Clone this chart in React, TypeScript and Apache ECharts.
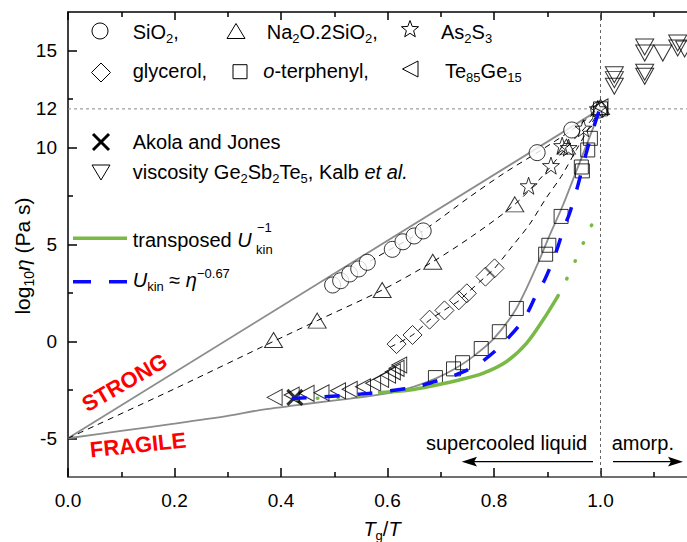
import React, { useEffect, useRef } from 'react';
import * as echarts from 'echarts';

const FONT = '"Liberation Sans", Arial, Helvetica, sans-serif';

// ---- axes / ticks ----
const xMin = 0;
const xMax = 1.2;
const yMin = -7;
const yMax = 17;
const yLabelValues = [-5, 0, 5, 10, 12, 15];
const yMajorTicks = [-5, 0, 5, 10, 15];
const yMinorTicks = [-2.5, 2.5, 7.5, 12.5];

// ---- marker data [Tg/T, log10 eta] ----
const sio2 = [[0.497, 2.91], [0.512, 3.13], [0.529, 3.48], [0.546, 3.74], [0.562, 4.08], [0.609, 4.75], [0.629, 5.14], [0.65, 5.44], [0.667, 5.7], [0.881, 9.74], [0.946, 10.91], [0.997, 11.94]];
const na2o = [[0.386, 0.07], [0.468, 1.07], [0.59, 2.65], [0.685, 4.11], [0.839, 7.07], [0.936, 10.05], [1.0, 12.1]];
const as2s3 = [[0.865, 8.03], [0.907, 9.07], [0.928, 10.1], [0.94, 10.0], [0.968, 11.0], [0.995, 12.0]];
const glycerol = [[0.617, -0.14], [0.647, 0.33], [0.679, 1.12], [0.707, 1.6], [0.734, 2.12], [0.749, 2.48], [0.784, 3.34], [0.801, 3.77]];
const oTerphenyl = [[0.69, -1.87], [0.724, -1.42], [0.741, -1.1], [0.776, -0.37], [0.81, 0.5], [0.842, 1.7], [0.897, 4.5], [0.903, 4.96], [0.926, 6.45], [0.964, 9.0], [0.966, 8.8], [0.976, 9.88], [0.981, 10.48], [1.0, 12.0]];
const teGe = [[0.388, -2.89], [0.42, -2.77], [0.448, -2.68], [0.476, -2.65], [0.507, -2.55], [0.529, -2.47], [0.554, -2.34], [0.573, -2.16], [0.588, -1.96], [0.601, -1.74], [0.61, -1.57], [0.617, -1.39], [0.622, -1.22], [1.0, 12.1]];
const akola = [[0.426, -2.89]];
const gstKalb = [[1.026, 13.76], [1.026, 13.51], [1.026, 13.17], [1.083, 15.19], [1.083, 14.88], [1.083, 13.89], [1.083, 13.68], [1.117, 14.88], [1.145, 15.4], [1.145, 15.14], [1.158, 15.09]];

// ---- lines ----
const strongLine = [[0, -5], [1, 12]];
const fragileLine = [[0, -5], [0.1, -4.62], [0.2, -4.25], [0.3, -3.85], [0.36, -3.55], [0.45, -3.22], [0.53, -2.95], [0.6, -2.68], [0.65, -2.33], [0.69, -1.92], [0.724, -1.45], [0.76, -0.8], [0.8, 0.15], [0.842, 1.7], [0.882, 4.0], [0.904, 5.45], [0.929, 7.0], [0.954, 8.75], [0.976, 10.3], [1.0, 12.0]];
const sio2Fit = [[0.497, 2.91], [0.58, 4.35], [0.667, 5.72], [0.754, 7.45], [0.82, 8.7], [0.881, 9.74], [0.946, 10.91], [1.0, 12.0]];
const na2oFit = [[0, -5], [0.2, -2.45], [0.386, 0.0], [0.468, 1.07], [0.59, 2.65], [0.685, 4.11], [0.76, 5.45], [0.839, 7.07], [0.89, 8.5], [0.936, 10.0], [0.97, 11.0], [1.0, 12.0]];
const glycerolFit = [[0.605, -0.3], [0.647, 0.33], [0.679, 1.1], [0.707, 1.62], [0.734, 2.1], [0.749, 2.48], [0.784, 3.34], [0.801, 3.77], [0.836, 4.97], [0.867, 6.05], [0.898, 7.4], [0.926, 8.5], [0.955, 9.9], [0.98, 11.1], [1.0, 12.0]];
const greenDotLow = [[0.43, -2.97], [0.465, -2.94], [0.545, -2.82], [0.582, -2.65]];
const greenSolid = [[0.582, -2.65], [0.642, -2.51], [0.692, -2.25], [0.735, -1.99], [0.779, -1.65], [0.823, -1.05], [0.861, -0.1], [0.892, 1.1], [0.92, 2.34]];
const greenDotHigh = [[0.92, 2.34], [0.934, 3.08], [0.951, 4.06], [0.968, 5.09], [0.985, 6.1]];
const blueUkin = [[0.42, -2.95], [0.48, -2.86], [0.55, -2.72], [0.6, -2.57], [0.65, -2.37], [0.7, -1.98], [0.74, -1.6], [0.773, -1.13], [0.8, -0.55], [0.82, -0.02], [0.848, 0.85], [0.864, 1.53], [0.879, 2.39], [0.895, 3.17], [0.911, 4.2], [0.92, 4.89], [0.932, 5.92], [0.942, 6.61], [0.957, 8.0], [0.973, 9.7], [0.989, 11.2], [1.0, 12.1]];
const tgLine = [[0, 12], [1.2, 12]];
const glassLine = [[1, -7], [1, 17]];

const GREEN = '#79b945';
const BLUE = '#0a0aff';
const GRAY = '#8c8c8c';
const STAR = 'path://M50,2 L61.8,36.2 L97.6,36.9 L69,58.8 L79.4,93.1 L50,72.5 L20.6,93.1 L31,58.8 L2.4,36.9 L38.2,36.2 Z';
const CROSS = 'path://M0,0 L10,10 M10,0 L0,10';

function starPoints(cx: number, cy: number, R: number, r: number) {
  const pts: number[][] = [];
  for (let i = 0; i < 10; i++) {
    const a = -Math.PI / 2 + (i * Math.PI) / 5;
    const rad = i % 2 === 0 ? R : r;
    pts.push([cx + rad * Math.cos(a), cy + rad * Math.sin(a)]);
  }
  return pts;
}

const rich = {
  sub: { fontSize: 13, lineHeight: 12, verticalAlign: 'bottom', fontFamily: FONT, fill: '#000' },
  sup: { fontSize: 13, lineHeight: 12, verticalAlign: 'top', fontFamily: FONT, fill: '#000' },
  it: { fontSize: 20, lineHeight: 26, fontStyle: 'italic', fontFamily: FONT, fill: '#000' },
};
const richY = {
  sub: { fontSize: 14, lineHeight: 12, verticalAlign: 'bottom', fontFamily: FONT, fill: '#000' },
  it: { fontSize: 21, lineHeight: 27, fontStyle: 'italic', fontFamily: FONT, fill: '#000' },
};

function txt(x: number, y: number, text: string, extra: any = {}) {
  return {
    type: 'text',
    x,
    y,
    silent: true,
    z: 10,
    style: {
      text,
      fontSize: 20,
      lineHeight: 26,
      fontFamily: FONT,
      fill: '#000',
      align: 'left',
      verticalAlign: 'middle',
      rich,
      ...extra,
    },
  };
}

const stroke = { stroke: '#000', lineWidth: 1, fill: 'none' };

function lineSeries(data: number[][], color: string, width: number, type: any, z: number, smooth: any = 0.3, extra: any = {}) {
  return {
    type: 'line',
    data,
    symbol: 'none',
    smooth,
    silent: true,
    z,
    lineStyle: { color, width, type, ...extra },
  };
}

function scatter(data: number[][], symbol: string, size: any, rotate = 0, fill = 'rgba(0,0,0,0)', bw = 1) {
  return {
    type: 'scatter',
    data,
    symbol,
    symbolSize: size,
    symbolRotate: rotate,
    silent: true,
    z: 3,
    itemStyle: { color: fill, borderColor: '#000', borderWidth: bw },
  };
}

function buildOption(): any {
  const axisCommon = { type: 'value', min: xMin, max: xMax, interval: 0.2, splitLine: { show: false } };
  const graphics: any[] = [
    // legend icons
    { type: 'circle', shape: { cx: 100, cy: 31, r: 8 }, style: { stroke: '#000', lineWidth: 1, fill: '#fff' } },
    { type: 'polygon', shape: { points: [[236, 23.5], [245, 38.5], [227, 38.5]] }, style: stroke },
    { type: 'polygon', shape: { points: starPoints(410, 29.5, 9, 3.8) }, style: stroke },
    { type: 'polygon', shape: { points: [[101, 63], [110.5, 72.5], [101, 82], [91.5, 72.5]] }, style: stroke },
    { type: 'rect', shape: { x: 233, y: 64.7, width: 14, height: 14 }, style: stroke },
    { type: 'polygon', shape: { points: [[402.5, 69], [418, 61], [418, 77]] }, style: stroke },
    { type: 'line', shape: { x1: 93, y1: 134, x2: 109, y2: 150 }, style: { stroke: '#000', lineWidth: 3 } },
    { type: 'line', shape: { x1: 109, y1: 134, x2: 93, y2: 150 }, style: { stroke: '#000', lineWidth: 3 } },
    { type: 'polygon', shape: { points: [[92, 165], [110, 165], [101, 180]] }, style: stroke },
    { type: 'line', shape: { x1: 73, y1: 238.3, x2: 127, y2: 238.3 }, style: { stroke: GREEN, lineWidth: 3.5 } },
    { type: 'line', shape: { x1: 73, y1: 281.7, x2: 127, y2: 281.7 }, style: { stroke: BLUE, lineWidth: 3.5, lineDash: [18, 18] } },
    // legend texts
    txt(132.7, 31.5, 'SiO{sub|2},'),
    txt(266.7, 31.5, 'Na{sub|2}O.2SiO{sub|2},'),
    txt(441, 31.5, 'As{sub|2}S{sub|3}'),
    txt(132.7, 71, 'glycerol,'),
    txt(263.3, 71, '{it|o}-terphenyl,'),
    txt(445, 71, 'Te{sub|85}Ge{sub|15}'),
    txt(132.7, 141.5, 'Akola and Jones'),
    txt(132.7, 171.5, 'viscosity Ge{sub|2}Sb{sub|2}Te{sub|5}, Kalb {it|et al.}'),
    txt(132.7, 239.5, 'transposed {it|U}'),
    txt(257, 227, '−1', { fontSize: 13, lineHeight: 13 }),
    txt(256, 249, 'kin', { fontSize: 13, lineHeight: 13 }),
    txt(132.7, 280, '{it|U}{sub|kin} ≈ {it|η}{sup|−0.67}'),
    // axis titles
    {
      type: 'text', x: 22, y: 256, rotation: Math.PI / 2, silent: true,
      style: { text: 'log{sub|10}{it|η} (Pa s)', fontSize: 21, lineHeight: 27, fontFamily: FONT, fill: '#000', align: 'center', verticalAlign: 'middle', rich: richY },
    },
    {
      type: 'text', x: 382, y: 529, silent: true,
      style: { text: '{it|T}{sub|g}/{it|T}', fontSize: 20, lineHeight: 26, fontFamily: FONT, fill: '#000', align: 'center', verticalAlign: 'middle', rich },
    },
    // STRONG / FRAGILE
    {
      type: 'text', x: 124.5, y: 382.5, rotation: (30 * Math.PI) / 180, silent: true,
      style: { text: 'STRONG', fontSize: 22, fontWeight: 'bold', fontFamily: FONT, fill: '#ff0000', align: 'center', verticalAlign: 'middle' },
    },
    {
      type: 'text', x: 138, y: 445, rotation: (6 * Math.PI) / 180, silent: true,
      style: { text: 'FRAGILE', fontSize: 22, fontWeight: 'bold', fontFamily: FONT, fill: '#ff0000', align: 'center', verticalAlign: 'middle' },
    },
    // regime annotation
    txt(426, 443, 'supercooled liquid'),
    txt(611.7, 443, 'amorp.'),
    { type: 'line', shape: { x1: 593, y1: 461.7, x2: 472, y2: 461.7 }, style: { stroke: '#000', lineWidth: 1.3 } },
    { type: 'polygon', shape: { points: [[461.7, 461.7], [477, 456.8], [474, 461.7], [477, 466.6]] }, style: { fill: '#000' } },
    { type: 'line', shape: { x1: 613, y1: 461.7, x2: 673, y2: 461.7 }, style: { stroke: '#000', lineWidth: 1.3 } },
    { type: 'polygon', shape: { points: [[683, 461.7], [668, 456.8], [671, 461.7], [668, 466.6]] }, style: { fill: '#000' } },
  ];

  return {
    animation: false,
    backgroundColor: '#fff',
    textStyle: { fontFamily: FONT },
    grid: { left: 68, top: 12, bottom: 65, width: 639 },
    xAxis: [
      {
        ...axisCommon,
        position: 'bottom',
        axisLine: { onZero: false, lineStyle: { color: '#707070', width: 2 } },
        axisTick: { inside: true, length: 9, lineStyle: { color: '#000', width: 1.5 } },
        minorTick: { show: true, splitNumber: 2, length: 5, lineStyle: { color: '#000', width: 1.5 } },
        axisLabel: {
          fontSize: 19, color: '#000', margin: 14, fontFamily: FONT,
          formatter: (v: number) => (v > 1.05 ? '' : v.toFixed(1)),
        },
      },
      {
        ...axisCommon,
        position: 'top',
        axisLine: { onZero: false, lineStyle: { color: '#000', width: 1.5 } },
        axisTick: { inside: true, length: 8, lineStyle: { color: '#000', width: 1.5 } },
        minorTick: { show: true, splitNumber: 2, length: 5, lineStyle: { color: '#000', width: 1.5 } },
        axisLabel: { show: false },
      },
    ],
    yAxis: [
      {
        type: 'value', min: yMin, max: yMax, position: 'left',
        splitLine: { show: false },
        axisLine: { onZero: false, lineStyle: { color: '#000', width: 1.5 } },
        axisTick: { inside: true, length: 9, customValues: yMajorTicks, lineStyle: { color: '#000', width: 1.5 } },
        axisLabel: { customValues: yLabelValues, fontSize: 19, color: '#000', margin: 11, fontFamily: FONT, formatter: (v: number) => String(v) },
      },
      {
        type: 'value', min: yMin, max: yMax, position: 'left',
        splitLine: { show: false },
        axisLine: { show: false, onZero: false },
        axisTick: { inside: true, length: 5, customValues: yMinorTicks, lineStyle: { color: '#000', width: 1.5 } },
        axisLabel: { show: false },
      },
    ],
    series: [
      lineSeries(tgLine, '#888', 1, [3, 3], 1, false),
      lineSeries(glassLine, '#666', 1, [3, 3], 1, false),
      lineSeries(strongLine, GRAY, 1.8, 'solid', 2, false),
      lineSeries(fragileLine, GRAY, 1.8, 'solid', 2),
      lineSeries(sio2Fit, '#000', 1, [6, 5], 2),
      lineSeries(na2oFit, '#000', 1, [6, 5], 2),
      lineSeries(glycerolFit, '#000', 1, [6, 5], 2),
      scatter(sio2, 'circle', 16, 0, '#fff'),
      scatter(na2o, 'triangle', [18, 15]),
      scatter(as2s3, STAR, 17),
      scatter(glycerol, 'diamond', [19, 19]),
      scatter(oTerphenyl, 'rect', 14),
      scatter(teGe, 'triangle', [16, 15], 90),
      scatter(akola, CROSS, 15, 0, 'rgba(0,0,0,0)', 3),
      scatter(gstKalb, 'triangle', [18, 16], 180),
      lineSeries(greenDotLow, GREEN, 3.5, [0.5, 20], 4, 0.3, { cap: 'round' }),
      lineSeries(greenSolid, GREEN, 3.5, 'solid', 4),
      lineSeries(greenDotHigh, GREEN, 3.5, [0.5, 19], 4, 0.3, { cap: 'round' }),
      lineSeries(blueUkin, BLUE, 3.5, [15, 18], 5),
    ],
    graphic: { elements: graphics },
  };
}

export default function App() {
  const ref = useRef<HTMLDivElement>(null);
  useEffect(() => {
    document.body.style.margin = '0';
    const chart = echarts.init(ref.current as HTMLDivElement, null, { renderer: 'svg' });
    chart.setOption(buildOption());
    return () => chart.dispose();
  }, []);
  return (
    <div style={{ position: 'absolute', left: 0, top: 0, width: 687, height: 542, overflow: 'hidden' }}>
      <div ref={ref} style={{ width: 720, height: 542 }} />
    </div>
  );
}
